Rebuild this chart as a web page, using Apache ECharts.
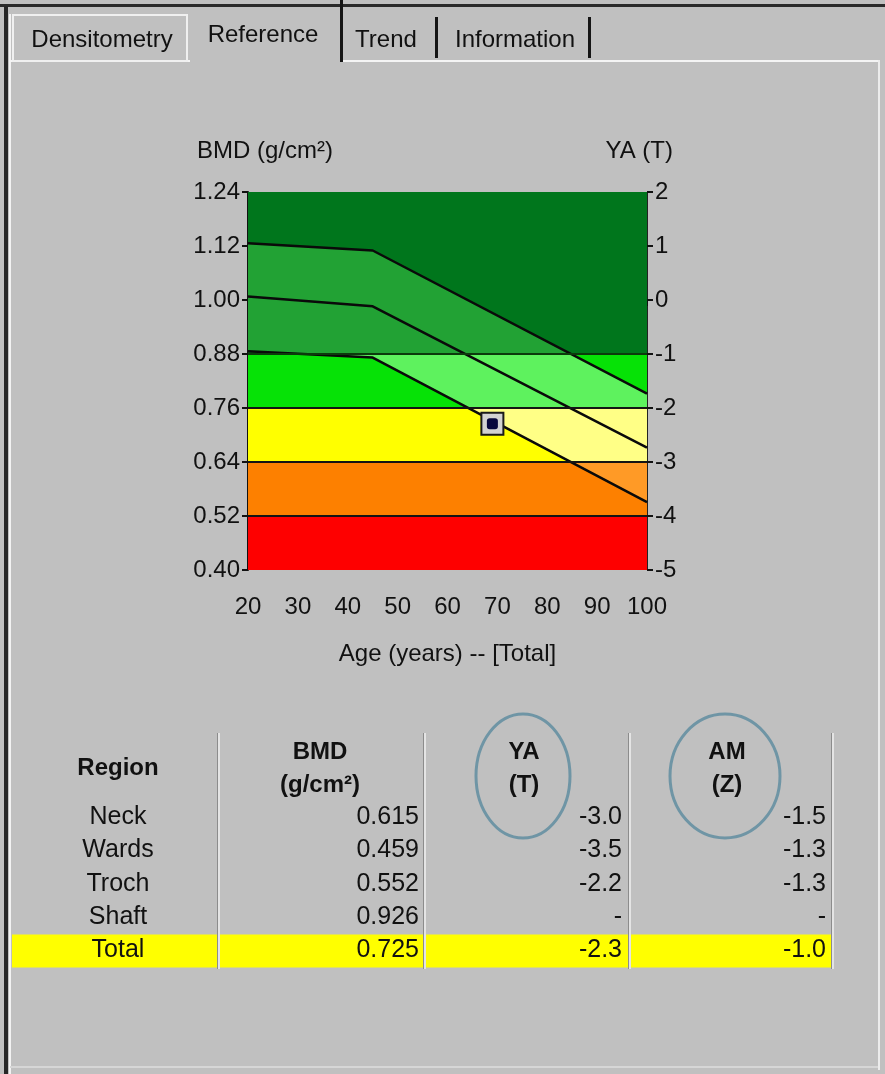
<!DOCTYPE html>
<html>
<head>
<meta charset="utf-8">
<script src="https://cdn.jsdelivr.net/npm/echarts@6/dist/echarts.min.js"></script>
<style>
html,body{margin:0;padding:0;background:#c0c0c0;}
#chart{width:885px;height:1074px;}
</style>
</head>
<body>
<div id="chart"></div>
<script>
// ---------------- data ----------------
const ages = [20, 45, 100];
const upperRef = [1.126, 1.110, 0.792];
const meanRef  = [1.008, 0.986, 0.672];
const lowerRef = [0.886, 0.872, 0.551];
const bandEdges = [0.40, 0.52, 0.64, 0.76, 0.88, 1.24];
const bandLines = [0.52, 0.64, 0.76, 0.88];
const patientAge = 69;
const patientBmd = 0.725;

const tabs = ['Densitometry', 'Reference', 'Trend', 'Information'];
const regions = ['Neck', 'Wards', 'Troch', 'Shaft', 'Total'];
const bmdValues = ['0.615', '0.459', '0.552', '0.926', '0.725'];
const yaValues = ['-3.0', '-3.5', '-2.2', '-', '-2.3'];
const amValues = ['-1.5', '-1.3', '-1.3', '-', '-1.0'];

// ---------------- styles ----------------
const FONT = "'Liberation Sans', Arial, sans-serif";
const bandColors = ['#fe0000', '#fd8000', '#ffff00', '#06e206', '#00761c'];
const tintColors = ['#ff3030', '#ff9a26', '#ffff86', '#5ef25e', '#22a234'];
const xMin = 20, xMax = 100;

function clipHalf(pts, keep, yb) {
  const out = [];
  for (let i = 0; i < pts.length; i++) {
    const a = pts[i], b = pts[(i + 1) % pts.length];
    const ia = keep(a[1]), ib = keep(b[1]);
    if (ia) out.push(a);
    if (ia !== ib) {
      const t = (yb - a[1]) / (b[1] - a[1]);
      out.push([a[0] + t * (b[0] - a[0]), yb]);
    }
  }
  return out;
}
function tintPolygon(lo, hi) {
  let poly = [];
  ages.forEach((a, i) => poly.push([a, upperRef[i]]));
  for (let i = ages.length - 1; i >= 0; i--) poly.push([ages[i], lowerRef[i]]);
  poly = clipHalf(poly, y => y >= lo, lo);
  if (poly.length) poly = clipHalf(poly, y => y <= hi, hi);
  return poly;
}

const chart = echarts.init(document.getElementById('chart'), null, {renderer: 'canvas'});

// ---------------- graphic (window chrome + table) ----------------
const g = [];
// window frame
g.push({type: 'rect', shape: {x: 0, y: 4, width: 885, height: 3}, style: {fill: '#2a2a2a'}, silent: true});
g.push({type: 'rect', shape: {x: 4, y: 6, width: 4, height: 1068}, style: {fill: '#262626'}, silent: true});
g.push({type: 'rect', shape: {x: 9, y: 14, width: 2, height: 1060}, style: {fill: '#f2f2f2'}, silent: true});
g.push({type: 'rect', shape: {x: 342, y: 60, width: 537, height: 2}, style: {fill: '#f4f4f4'}, silent: true});
g.push({type: 'rect', shape: {x: 10, y: 60, width: 180, height: 2}, style: {fill: '#f4f4f4'}, silent: true});
g.push({type: 'rect', shape: {x: 878, y: 60, width: 2, height: 1010}, style: {fill: '#ececec'}, silent: true});
g.push({type: 'rect', shape: {x: 10, y: 1066, width: 868, height: 2}, style: {fill: '#d6d6d6'}, silent: true});
// tabs
g.push({type: 'rect', shape: {x: 13, y: 15, width: 174, height: 46}, style: {fill: 'none', stroke: '#f0f0f0', lineWidth: 2}, silent: true});
g.push({type: 'rect', shape: {x: 340, y: 0, width: 3, height: 62}, style: {fill: '#151515'}, silent: true});
g.push({type: 'rect', shape: {x: 435, y: 17, width: 3, height: 41}, style: {fill: '#151515'}, silent: true});
g.push({type: 'rect', shape: {x: 588, y: 17, width: 3, height: 41}, style: {fill: '#151515'}, silent: true});
const tabX = [102, 263, 386, 515];
const tabY = [40, 35, 40, 40];
tabs.forEach((t, i) => g.push({type: 'text', x: tabX[i], y: tabY[i],
  style: {text: t, font: '24px ' + FONT, fill: '#111', textAlign: 'center', textVerticalAlign: 'middle'}, silent: true}));
// chart titles
g.push({type: 'text', x: 197, y: 151, style: {text: 'BMD (g/cm²)', font: '24px ' + FONT, fill: '#111', textAlign: 'left', textVerticalAlign: 'middle'}, silent: true});
g.push({type: 'text', x: 673, y: 151, style: {text: 'YA (T)', font: '24px ' + FONT, fill: '#111', textAlign: 'right', textVerticalAlign: 'middle'}, silent: true});

// table
const rowY0 = 817, rowStep = 33.4;
// highlight row (Total)
const hlY = rowY0 + 4 * rowStep - 16;
[[12, 205], [220, 203], [426, 202], [631, 200]].forEach(s =>
  g.push({type: 'rect', shape: {x: s[0], y: hlY, width: s[1], height: 33}, style: {fill: '#ffff00'}, silent: true}));
// separators
[217, 423, 628, 831].forEach(x => {
  g.push({type: 'rect', shape: {x: x, y: 733, width: 1, height: 236}, style: {fill: '#8c8c8c'}, silent: true});
  g.push({type: 'rect', shape: {x: x + 1, y: 733, width: 2, height: 236}, style: {fill: '#e4e4e4'}, silent: true});
});
const hdr = (txt, x, y) => g.push({type: 'text', x: x, y: y,
  style: {text: txt, font: 'bold 24px ' + FONT, fill: '#111', textAlign: 'center', textVerticalAlign: 'middle'}, silent: true});
hdr('Region', 118, 768);
hdr('BMD', 320, 752); hdr('(g/cm²)', 320, 785);
hdr('YA', 524, 752); hdr('(T)', 524, 785);
hdr('AM', 727, 752); hdr('(Z)', 727, 785);
regions.forEach((r, i) => {
  const y = rowY0 + i * rowStep;
  const st = (txt, x, align) => g.push({type: 'text', x: x, y: y,
    style: {text: txt, font: '25px ' + FONT, fill: '#111', textAlign: align, textVerticalAlign: 'middle'}, silent: true});
  st(r, 118, 'center');
  st(bmdValues[i], 419, 'right');
  st(yaValues[i], 622, 'right');
  st(amValues[i], 826, 'right');
});
// annotation ellipses
g.push({type: 'ellipse', shape: {cx: 523, cy: 776, rx: 47, ry: 62}, style: {fill: 'none', stroke: '#6f95a5', lineWidth: 3}, silent: true});
g.push({type: 'ellipse', shape: {cx: 725, cy: 776, rx: 55, ry: 62}, style: {fill: 'none', stroke: '#6f95a5', lineWidth: 3}, silent: true});

// ---------------- option ----------------
const axisText = {color: '#111', fontSize: 24, fontFamily: FONT};
const option = {
  backgroundColor: '#c0c0c0',
  animation: false,
  grid: {left: 248, right: 238, top: 192, bottom: 504},
  xAxis: {
    type: 'value', min: xMin, max: xMax, interval: 10,
    name: 'Age (years) -- [Total]', nameLocation: 'middle', nameGap: 72,
    nameTextStyle: {color: '#111', fontSize: 24, fontFamily: FONT},
    axisLine: {show: true, lineStyle: {color: '#111', width: 2}},
    axisTick: {show: true, length: 6, lineStyle: {color: '#111', width: 2}},
    axisLabel: Object.assign({margin: 25}, axisText),
    splitLine: {show: false}
  },
  yAxis: [{
    type: 'value', min: bandEdges[0], max: bandEdges[bandEdges.length - 1], interval: 0.12,
    position: 'left',
    axisLine: {show: true, lineStyle: {color: '#111', width: 2}},
    axisTick: {show: true, length: 6, lineStyle: {color: '#111', width: 2}},
    axisLabel: Object.assign({margin: 8, formatter: v => v.toFixed(2)}, axisText),
    splitLine: {show: false}
  }, {
    type: 'value', min: -5, max: 2, interval: 1,
    position: 'right',
    axisLine: {show: true, lineStyle: {color: '#222', width: 1}},
    axisTick: {show: true, length: 6, lineStyle: {color: '#111', width: 2}},
    axisLabel: Object.assign({margin: 8}, axisText),
    splitLine: {show: false}
  }],
  series: [
    {
      type: 'custom', name: 'bands', silent: true, z: 1, clip: true,
      encode: {x: 0, y: 1},
      data: bandEdges.slice(0, -1).map((lo, i) => [xMin, lo, bandEdges[i + 1], i]),
      renderItem: function (params, api) {
        const lo = api.value(1), hi = api.value(2), i = api.value(3);
        const p1 = api.coord([xMin, hi]), p2 = api.coord([xMax, lo]);
        const children = [{type: 'rect', shape: {x: p1[0], y: p1[1], width: p2[0] - p1[0], height: p2[1] - p1[1] + 0.5},
          style: {fill: bandColors[i]}}];
        const poly = tintPolygon(lo, hi);
        if (poly.length >= 3) {
          children.push({type: 'polygon', shape: {points: poly.map(p => api.coord(p))}, style: {fill: tintColors[i]}});
        }
        return {type: 'group', children: children};
      }
    },
    {
      type: 'line', name: 'boundaries', data: [], z: 2, silent: true,
      markLine: {
        silent: true, symbol: ['none', 'none'], label: {show: false}, animation: false,
        lineStyle: {color: '#141414', width: 2, type: 'solid'},
        data: bandLines.map(v => (v === 0.88 ? {yAxis: v, lineStyle: {color: '#0c3a0c', width: 2, type: 'solid'}} : {yAxis: v}))
      }
    },
    {type: 'line', name: '+1 SD', z: 3, symbol: 'none', silent: true,
      lineStyle: {color: '#0a0a0a', width: 2.5}, data: ages.map((a, i) => [a, upperRef[i]])},
    {type: 'line', name: 'Mean', z: 3, symbol: 'none', silent: true,
      lineStyle: {color: '#0a0a0a', width: 2.5}, data: ages.map((a, i) => [a, meanRef[i]])},
    {type: 'line', name: '-1 SD', z: 3, symbol: 'none', silent: true,
      lineStyle: {color: '#0a0a0a', width: 2.5}, data: ages.map((a, i) => [a, lowerRef[i]])},
    {type: 'scatter', name: 'Patient', z: 4, symbol: 'rect', symbolSize: 22, silent: true,
      itemStyle: {color: '#d2d2d2', borderColor: '#1a1a1a', borderWidth: 2, opacity: 1},
      data: [[patientAge, patientBmd]]},
    {type: 'scatter', name: 'PatientDot', z: 5, symbol: 'roundRect', symbolSize: 11, silent: true,
      itemStyle: {color: '#07073c', opacity: 1},
      data: [[patientAge, patientBmd]]}
  ],
  graphic: {elements: g}
};
chart.setOption(option);
</script>
</body>
</html>
